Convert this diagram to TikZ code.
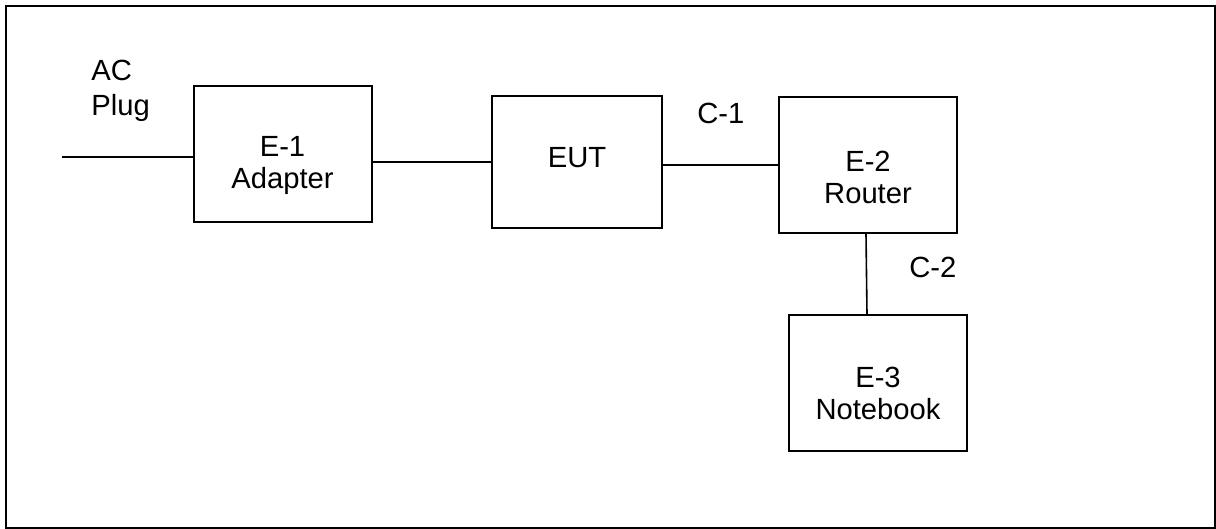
\documentclass[tikz,border=0pt]{standalone}
\usepackage{fontspec}
\setmainfont{Liberation Sans}
\usepackage{tikz}
\usetikzlibrary{
  positioning,
  calc
}
\tikzset{
  unit/.style={
    draw, line width=1pt, minimum width=89pt, minimum height=68pt, inner sep=0pt
  },
  unittext/.style={font=\fontsize{14.6}{16}\selectfont, align=center, inner sep=0pt},
  cable/.style={line width=0.8pt},
  tag/.style={font=\fontsize{14.6}{17.5}\selectfont, align=left, inner sep=0pt, anchor=north west},
  frame/.style={line width=1.3pt}
}
\begin{document}
\begin{tikzpicture}[x=0.5pt, y=-0.5pt]
  \useasboundingbox (0,0) rectangle (1216,529);
  \draw[frame] (6,6) rectangle (1215,528);

  % equipment boxes
  \node[unit, label={[unittext, yshift=-5.75pt]center:{E-1\\Adapter}}] (adapter) at (282.5,154) {};
  \node[unit, minimum width=85pt, minimum height=66pt,
        label={[unittext, yshift=2pt]center:{EUT}}] (eut) at (577,162) {};
  \node[unit, label={[unittext, yshift=-6pt]center:{E-2\\Router}}] (router) at (868,165) {};
  \node[unit, label={[unittext, yshift=-5pt]center:{E-3\\Notebook}}] (notebook) at (878,383) {};

  % cables
  \coordinate (plug) at (62,157);
  \draw[cable] (plug) -- (plug -| adapter.west);
  \draw[cable] (adapter.east |- eut.west) -- (eut.west);
  \draw[cable] (eut.east |- router.west) -- (router.west);
  \draw[cable] ([xshift=-1pt]router.south) -- ([xshift=-5.5pt]notebook.north);

  \node[tag] (acplug) at (91,60) {AC\\Plug};
  \node[tag] (c1) at (697,103) {C-1};
  \node[tag] (c2) at (909,257) {C-2};
\end{tikzpicture}
\end{document}
